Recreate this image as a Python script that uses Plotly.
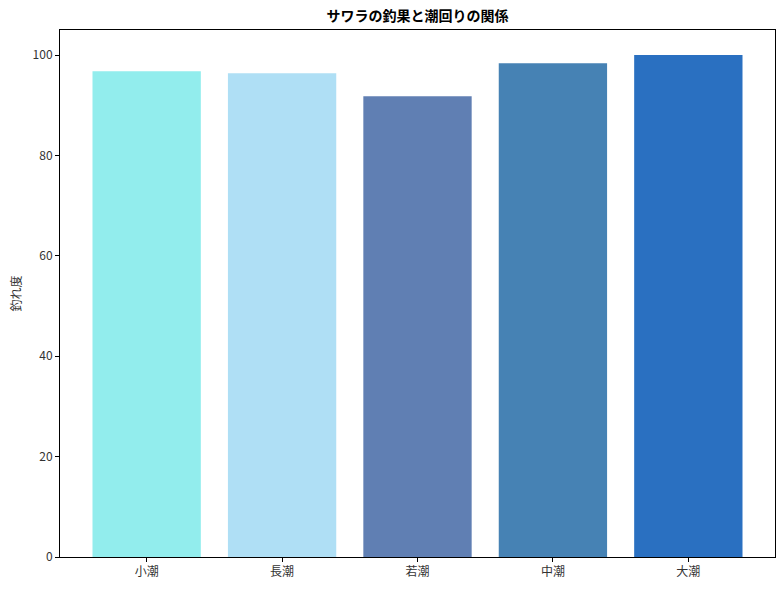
import plotly.graph_objects as go

# tide types and catch scores
tides = ["小潮", "長潮", "若潮", "中潮", "大潮"]
scores = [96.8, 96.4, 91.8, 98.4, 100.0]
bar_colors = ["#92EDED", "#AFDFF5", "#607FB3", "#4682B4", "#2A70C1"]

fig = go.Figure(
    go.Bar(
        x=list(range(len(tides))),
        y=scores,
        marker=dict(color=bar_colors, line=dict(width=0)),
        width=0.8,
    )
)

font_jp = "Noto Sans CJK JP, sans-serif"

fig.update_layout(
    template="none",
    width=784,
    height=590,
    margin=dict(l=60, r=9, t=30, b=33),
    plot_bgcolor="white",
    paper_bgcolor="white",
    showlegend=False,
    font=dict(family=font_jp, size=12, color="#333333"),
    title=dict(
        text="<b>サワラの釣果と潮回りの関係</b>",
        x=0.5,
        xanchor="center",
        xref="paper",
        y=1 - 16 / 590,
        yanchor="middle",
        font=dict(family=font_jp, size=14, color="black"),
    ),
)

fig.update_xaxes(
    automargin=False,
    tickmode="array",
    tickvals=list(range(len(tides))),
    ticktext=tides,
    range=[-0.64, 4.64],
    showline=True,
    linecolor="black",
    linewidth=1,
    mirror=True,
    ticks="outside",
    ticklen=4,
    tickcolor="black",
    showgrid=False,
    zeroline=False,
)

fig.update_yaxes(
    automargin=False,
    range=[0, 105],
    tickvals=[0, 20, 40, 60, 80, 100],
    title=dict(text="釣れ度", standoff=8, font=dict(size=12)),
    showline=True,
    linecolor="black",
    linewidth=1,
    mirror=True,
    ticks="outside",
    ticklen=4,
    tickcolor="black",
    showgrid=False,
    zeroline=False,
)

# drop the browser's default body margin so the figure sits at the top-left corner
fig.write_html(
    "out.html",
    config={"displayModeBar": False},
    post_script="document.body.style.margin='0';document.body.style.overflow='hidden';",
)
